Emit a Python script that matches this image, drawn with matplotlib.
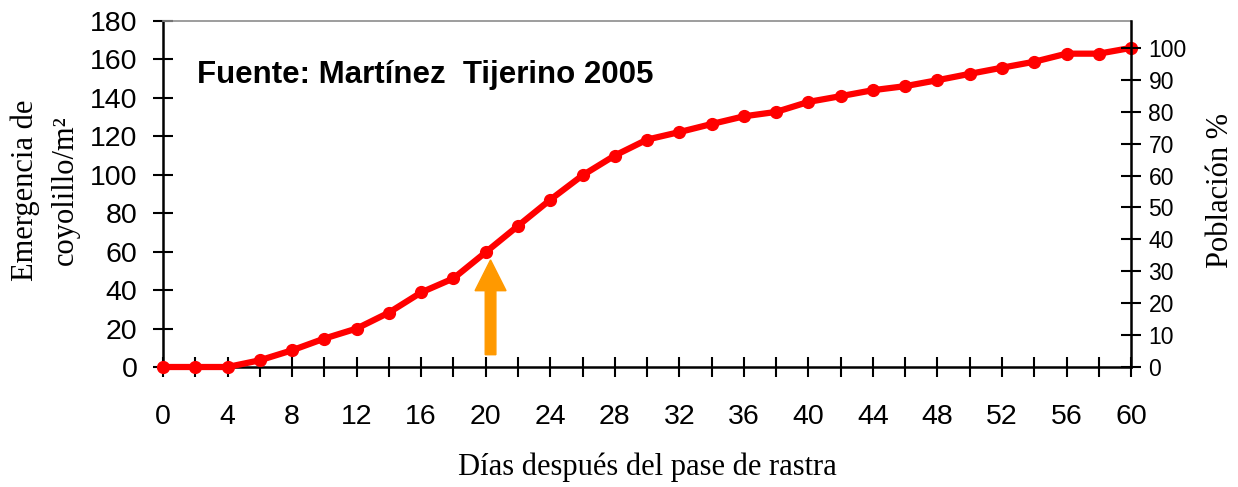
import numpy as np
import matplotlib
matplotlib.use('Agg')
import matplotlib.pyplot as plt

# days after harrowing and weed emergence (plants / m2)
dias = [0, 2, 4, 6, 8, 10, 12, 14, 16, 18, 20, 22, 24, 26, 28, 30,
        32, 34, 36, 38, 40, 42, 44, 46, 48, 50, 52, 54, 56, 58, 60]
emergencia = [0, 0, 0, 3.5, 8.7, 14.8, 20.0, 28.3, 38.8, 46.1, 59.7, 73.4,
              87.0, 99.7, 110.0, 118.3, 122.2, 126.4, 130.4, 132.7, 137.9,
              140.9, 144.0, 146.1, 149.2, 152.5, 155.7, 158.8, 163.0, 163.0,
              166.0]

x_ticks = list(range(0, 61, 4))
left_ticks = list(range(0, 181, 20))
right_ticks = list(range(0, 101, 10))

fuente = 'Fuente: Martínez  Tijerino 2005'

sans = 'Liberation Sans'
serif = 'Liberation Serif'


def main():
    fig = plt.figure(figsize=(12.38, 4.87), dpi=100)
    ax = fig.add_axes([0.1317, 0.2464, 0.7819, 0.7105])

    ax.plot(dias, emergencia, color='#ff0000', lw=4.5, marker='o',
            ms=8.5, clip_on=False, zorder=5)

    ax.set_xlim(0, 60)
    ax.set_ylim(0, 180)
    ax.set_xticks(x_ticks)
    ax.set_xticks(dias, minor=True)
    ax.set_yticks(left_ticks)

    for lab in ax.get_xticklabels() + ax.get_yticklabels():
        lab.set_fontfamily(sans)
    ax.tick_params(axis='x', which='both', direction='inout', length=15,
                   width=1.5, labelsize=20.5, pad=19)
    ax.tick_params(axis='y', direction='inout', length=15, width=1.5,
                   labelsize=20.5, pad=11)

    for s in ['left', 'bottom']:
        ax.spines[s].set_linewidth(1.8)
    ax.spines['right'].set_visible(False)
    ax.spines['top'].set_color('#8c8c8c')
    ax.spines['top'].set_linewidth(1.2)

    # second axis in percent of final emergence
    ax2 = ax.twinx()
    ax2.set_ylim(0, 180 / emergencia[-1] * 100)
    ax2.set_yticks(right_ticks)
    for lab in ax2.get_yticklabels():
        lab.set_fontfamily(sans)
    ax2.tick_params(axis='y', direction='inout', length=15, width=1.5,
                    labelsize=16.5, pad=5)
    ax2.spines['right'].set_linewidth(1.8)
    for s in ['left', 'bottom', 'top']:
        ax2.spines[s].set_visible(False)

    ax.set_xlabel('Días después del pase de rastra', fontfamily=serif,
                  fontsize=22, va='center')
    ax.xaxis.set_label_coords(0.5, -0.29)
    ax.set_ylabel('Emergencia de\ncoyolillo/m²', fontfamily=serif,
                  fontsize=22, linespacing=1.5, va='center', ha='center')
    ax.yaxis.set_label_coords(-0.1215, 0.51)
    ax2.set_ylabel('Población %', fontfamily=serif, fontsize=22,
                   va='center', ha='center')
    ax2.yaxis.set_label_coords(1.092, 0.51)

    ax.text(0.035, 0.844, fuente, transform=ax.transAxes, fontfamily=sans,
            fontweight='bold', fontsize=22.5, va='center', ha='left')

    # orange arrow marking day 20
    ax.arrow(20.3, 6.4, 0, 49.3, width=0.66, head_width=1.92,
             head_length=16, length_includes_head=True,
             color='#ff9900', zorder=4)

    fig.savefig('out.png', dpi=100)


if __name__ == '__main__':
    main()
